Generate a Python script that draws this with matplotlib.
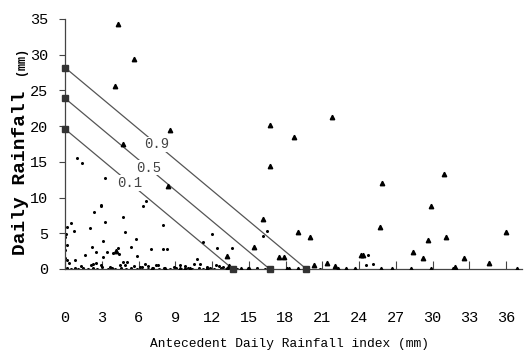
import matplotlib
matplotlib.use("Agg")
import matplotlib.pyplot as plt

# landslide events (triangles)
tri_x = [4.3, 5.6, 4.1, 8.6, 4.7, 8.4, 4.2, 16.7, 21.8, 18.7, 16.7, 16.2, 19.0,
         20.0, 15.4, 13.2, 17.5, 17.9, 25.9, 25.7, 24.3, 20.3, 21.4, 22.0, 13.4,
         30.9, 29.9, 31.1, 29.6, 28.4, 29.2, 32.6, 34.6, 36.0, 31.8, 24.2,
         7.1, 8.2, 9.4, 9.8, 10.2, 11.6, 13.2, 14.4, 14.9, 15.0, 18.1, 18.3,
         19.0, 22.3, 22.9, 23.7, 25.8, 26.7, 28.2, 29.9, 31.7, 36.9]
tri_y = [34.3, 29.4, 25.6, 19.5, 17.5, 11.6, 2.5, 20.2, 21.3, 18.5, 14.4, 7.0, 5.2,
         4.5, 3.1, 1.8, 1.7, 1.7, 12.0, 5.9, 1.9, 0.6, 0.8, 0.4, 0.4,
         13.3, 8.8, 4.5, 4.1, 2.4, 1.6, 1.6, 0.8, 5.2, 0.3, 2.0,
         0, 0, 0, 0, 0, 0, 0, 0, 0, 0, 0, 0,
         0, 0, 0, 0, 0, 0, 0, 0, 0, 0]

# non-event days (dots)
dot_x = [1.0, 1.4, 3.3, 2.9, 6.6, 2.4, 2.9, 0.5, 0.2, 0.7, 2.0, 3.3, 4.7, 0.1,
         4.9, 6.4, 0.2, 3.1, 5.8, 2.2, 2.5, 3.4, 3.9, 4.3, 4.4, 5.4, 7.0, 1.6,
         3.1, 5.9, 0.2, 0.8, 0.3, 2.3, 2.5, 2.9, 4.7, 5.1, 4.9, 6.5, 6.8,
         8.0, 8.0, 8.3, 12.0, 11.3, 12.4, 13.6, 10.8, 10.5, 11.0, 12.6, 12.9,
         16.5, 16.2, 24.7, 25.1, 24.6, 0.0, 0.0, 0.0, 9.4, 7.6,
         0.2, 0.5, 0.8, 1.1, 1.5, 1.9, 2.3, 2.6, 3.0, 3.5, 3.8, 4.1, 4.6, 5.0,
         5.4, 5.9, 6.3, 6.8, 7.2, 7.7, 8.1, 8.6, 9.1, 9.5, 10.0, 10.4, 10.9,
         11.3, 11.8, 12.2, 12.7, 13.1, 13.5, 14.0, 15.7, 16.3, 19.5, 20.8,
         1.3, 2.1, 3.7, 4.5, 5.6, 6.1, 7.4, 8.9, 9.8, 11.6, 12.3, 13.8]
dot_y = [15.5, 14.8, 12.7, 9.0, 9.5, 8.0, 8.8, 6.4, 5.9, 5.3, 5.7, 6.6, 7.3, 4.9,
         5.2, 8.8, 3.4, 3.9, 4.2, 3.1, 2.4, 2.4, 2.2, 2.9, 2.1, 3.1, 2.8, 2.0,
         1.7, 1.8, 1.3, 1.3, 0.8, 0.7, 0.8, 0.6, 1.0, 1.0, 0.6, 0.7, 0.4,
         6.2, 2.8, 2.8, 4.9, 3.8, 2.9, 2.9, 1.4, 0.7, 0.7, 0.4, 0.3,
         5.3, 4.6, 2.0, 0.7, 0.6, 4.5, 1.5, 2.6, 0.5, 0.6,
         0.1, 0, 0.1, 0, 0.2, 0, 0.1, 0, 0.3, 0, 0.1, 0, 0.2, 0,
         0.1, 0, 0.3, 0, 0.1, 0, 0.2, 0, 0.1, 0, 0.2, 0, 0.1,
         0, 0.2, 0, 0.1, 0, 0.3, 0, 0.1, 0, 0.1, 0,
         0.4, 0.5, 0.3, 0.6, 0.4, 0.3, 0.5, 0.3, 0.4, 0.3, 0.5, 0.2]

# probability threshold lines: (label, y-intercept, x-intercept)
line_names = ["0.9", "0.5", "0.1"]
line_y0 = [28.2, 23.9, 19.6]
line_x0 = [19.7, 16.7, 13.7]
label_x = [7.5, 6.8, 5.3]

x_ticks = list(range(0, 37, 3))
y_ticks = list(range(0, 36, 5))

font = "Liberation Mono"

fig = plt.figure(figsize=(5.25, 3.56), dpi=100)
ax = fig.add_axes([65 / 525, 1 - 269 / 356, (522 - 65) / 525, (269 - 19) / 356])

ax.plot(dot_x, dot_y, ls="none", marker="o", ms=1.2, color="black", zorder=2)
ax.plot(tri_x, tri_y, ls="none", marker="^", ms=3.2, color="black", zorder=3)

for name, y0, x0, lx in zip(line_names, line_y0, line_x0, label_x):
    ax.plot([0, x0], [y0, 0], color="#555555", lw=0.9, zorder=1)
    ax.plot([0, x0], [y0, 0], ls="none", marker="s", ms=3.8, color="#333333",
            zorder=4, clip_on=False)
    ly = y0 * (1 - lx / x0)
    ax.text(lx, ly, name, ha="center", va="center", fontsize=10, family=font,
            color="#444444", zorder=5,
            bbox=dict(facecolor="white", edgecolor="none", pad=0.5))

ax.set_xlim(0, 37.3)
ax.set_ylim(0, 35)
ax.set_xticks(x_ticks)
ax.set_yticks(y_ticks)
for s in ["top", "right"]:
    ax.spines[s].set_visible(False)
for s in ["left", "bottom"]:
    ax.spines[s].set_color("#444444")
    ax.spines[s].set_linewidth(0.9)
ax.tick_params(axis="x", direction="in", length=6, pad=30, colors="#444444",
               labelcolor="black", labelsize=11)
ax.tick_params(axis="y", direction="out", length=4, pad=8, colors="#444444",
               labelcolor="black", labelsize=11)
for lab in ax.get_xticklabels() + ax.get_yticklabels():
    lab.set_family(font)

fig.text((152 + 428) / 2 / 525, 1 - 344 / 356, "Antecedent Daily Rainfall index (mm)",
         ha="center", va="center", fontsize=9.3, family=font)
fig.text(21 / 525, 1 - 173 / 356, "Daily Rainfall", rotation=90, ha="center",
         va="center", fontsize=14, family=font, weight="bold")
fig.text(21 / 525, 1 - 61 / 356, "(mm)", rotation=90, ha="center",
         va="center", fontsize=8.5, family=font, weight="bold")

fig.savefig("out.png", dpi=100)
